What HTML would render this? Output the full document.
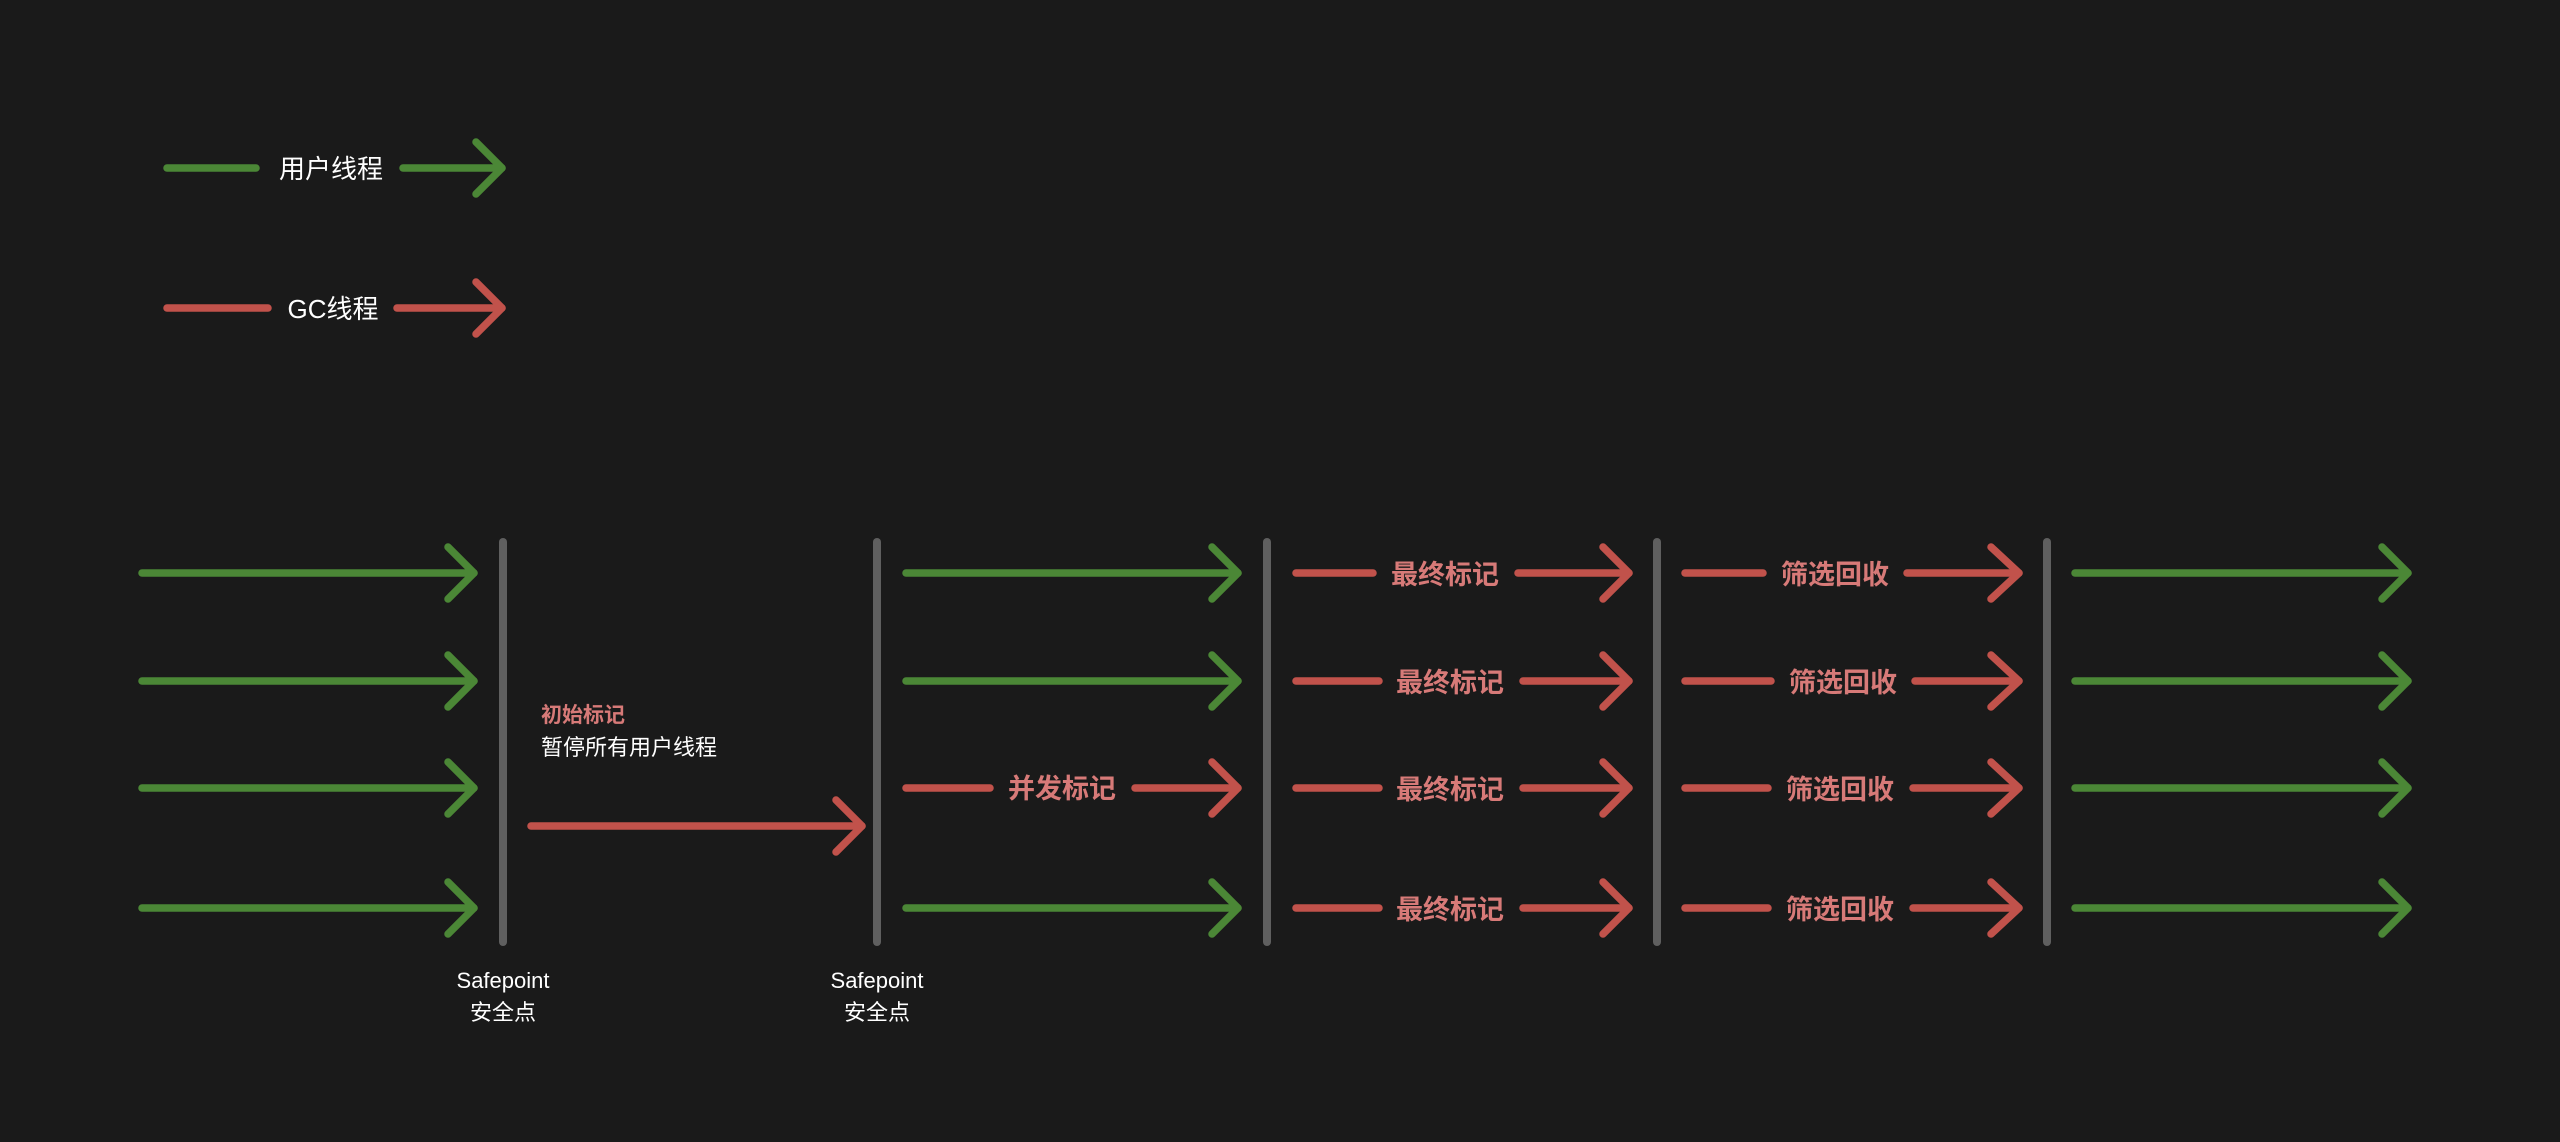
<!DOCTYPE html>
<html><head><meta charset="utf-8"><style>
html,body{margin:0;padding:0;background:#1a1a1a;}
svg{display:block}
text{font-family:"Liberation Sans","Noto Sans CJK SC",sans-serif;}
</style></head><body>
<svg width="2560" height="1142" viewBox="0 0 2560 1142" xmlns="http://www.w3.org/2000/svg">
<rect width="2560" height="1142" fill="#1a1a1a"/>
<g fill="none" stroke-width="7.5" stroke-linecap="round" stroke-linejoin="round">
<!-- legend -->
<g stroke="#4b8736">
<line x1="167" y1="168" x2="256" y2="168"/>
<line x1="403" y1="168" x2="502" y2="168"/>
<polyline points="476,142 502,168 476,194"/>
</g>
<g stroke="#c1524b">
<line x1="167" y1="308" x2="268" y2="308"/>
<line x1="397" y1="308" x2="502" y2="308"/>
<polyline points="476,282 502,308 476,334"/>
</g>
<!-- bars -->
<g stroke="#5f5f5f" stroke-width="8">
<line x1="503" y1="542" x2="503" y2="942"/>
<line x1="877" y1="542" x2="877" y2="942"/>
<line x1="1267" y1="542" x2="1267" y2="942"/>
<line x1="1657" y1="542" x2="1657" y2="942"/>
<line x1="2047" y1="542" x2="2047" y2="942"/>
</g>
<g stroke="#4b8736">
<line x1="142" y1="573" x2="474" y2="573"/><polyline points="448,547 474,573 448,599"/>
<line x1="142" y1="681" x2="474" y2="681"/><polyline points="448,655 474,681 448,707"/>
<line x1="142" y1="788" x2="474" y2="788"/><polyline points="448,762 474,788 448,814"/>
<line x1="142" y1="908" x2="474" y2="908"/><polyline points="448,882 474,908 448,934"/>
<line x1="906" y1="573" x2="1238" y2="573"/><polyline points="1212,547 1238,573 1212,599"/>
<line x1="906" y1="681" x2="1238" y2="681"/><polyline points="1212,655 1238,681 1212,707"/>
<line x1="906" y1="908" x2="1238" y2="908"/><polyline points="1212,882 1238,908 1212,934"/>
<line x1="2075" y1="573" x2="2408" y2="573"/><polyline points="2382,547 2408,573 2382,599"/>
<line x1="2075" y1="681" x2="2408" y2="681"/><polyline points="2382,655 2408,681 2382,707"/>
<line x1="2075" y1="788" x2="2408" y2="788"/><polyline points="2382,762 2408,788 2382,814"/>
<line x1="2075" y1="908" x2="2408" y2="908"/><polyline points="2382,882 2408,908 2382,934"/>
</g>
<g stroke="#c1524b">
<line x1="531" y1="826" x2="862" y2="826"/><polyline points="836,800 862,826 836,852"/>
<line x1="906" y1="788" x2="990" y2="788"/>
<line x1="1135" y1="788" x2="1238" y2="788"/><polyline points="1212,762 1238,788 1212,814"/>
<!-- col3 -->
<line x1="1296" y1="573" x2="1373" y2="573"/><line x1="1518" y1="573" x2="1629" y2="573"/><polyline points="1603,547 1629,573 1603,599"/>
<line x1="1296" y1="681" x2="1379" y2="681"/><line x1="1523" y1="681" x2="1629" y2="681"/><polyline points="1603,655 1629,681 1603,707"/>
<line x1="1296" y1="788" x2="1379" y2="788"/><line x1="1523" y1="788" x2="1629" y2="788"/><polyline points="1603,762 1629,788 1603,814"/>
<line x1="1296" y1="908" x2="1379" y2="908"/><line x1="1523" y1="908" x2="1629" y2="908"/><polyline points="1603,882 1629,908 1603,934"/>
<!-- col4 -->
<line x1="1685" y1="573" x2="1763" y2="573"/><line x1="1907" y1="573" x2="2019" y2="573"/><polyline points="1991,547 2019,573 1991,599"/>
<line x1="1685" y1="681" x2="1771" y2="681"/><line x1="1915" y1="681" x2="2019" y2="681"/><polyline points="1991,655 2019,681 1991,707"/>
<line x1="1685" y1="788" x2="1768" y2="788"/><line x1="1913" y1="788" x2="2019" y2="788"/><polyline points="1991,762 2019,788 1991,814"/>
<line x1="1685" y1="908" x2="1768" y2="908"/><line x1="1913" y1="908" x2="2019" y2="908"/><polyline points="1991,882 2019,908 1991,934"/>
</g>
</g>
<g fill="#ffffff" font-size="26">
<text x="331" y="178" text-anchor="middle">用户线程</text>
<text x="333" y="318" text-anchor="middle">GC线程</text>
</g>
<g fill="#ffffff" font-size="22" text-anchor="middle">
<text x="503" y="988">Safepoint</text>
<text x="503" y="1020">安全点</text>
<text x="877" y="988">Safepoint</text>
<text x="877" y="1020">安全点</text>
</g>
<text x="541" y="722" fill="#d77a78" font-size="21" font-weight="bold">初始标记</text>
<text x="541" y="755" fill="#ffffff" font-size="22">暂停所有用户线程</text>
<g fill="#d77a78" font-size="27" font-weight="bold" text-anchor="middle">
<text x="1062" y="798">并发标记</text>
<text x="1445" y="584">最终标记</text>
<text x="1450" y="692">最终标记</text>
<text x="1450" y="799">最终标记</text>
<text x="1450" y="919">最终标记</text>
<text x="1835" y="584">筛选回收</text>
<text x="1843" y="692">筛选回收</text>
<text x="1840" y="799">筛选回收</text>
<text x="1840" y="919">筛选回收</text>
</g>
</svg>
</body></html>
